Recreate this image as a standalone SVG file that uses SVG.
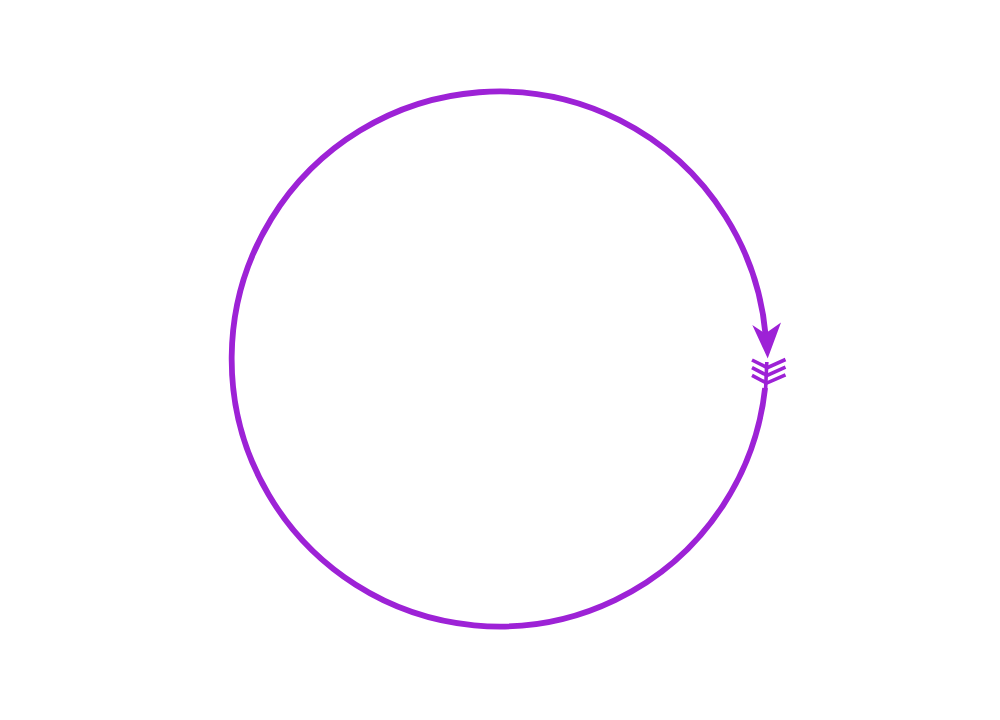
<svg xmlns="http://www.w3.org/2000/svg" width="1000" height="720" viewBox="0 0 1000 720">
  <style>
    .loop { fill: none; stroke: #9d22d6; stroke-width: 5.8; }
    .fletch { fill: none; stroke: #9d22d6; stroke-width: 3.6; stroke-linejoin: miter; }
    .head { fill: #9d22d6; stroke: none; }
  </style>
  <rect width="1000" height="720" fill="#ffffff"/>
  <g id="connectors">
    <g id="cycle-loop">
      <path class="loop" d="M 765.1 388 A 267.5 267.5 0 1 1 765.6 335"/>
      <polygon class="head" points="767.7,358.5 752.3,325 765.3,333.5 781,322.5"/>
      <path class="fletch" d="M 766.8 362 L 765.6 389"/>
      <polyline class="fletch" points="752,360 767.3,367.7 785.5,359.5"/>
      <polyline class="fletch" points="752,367.7 767,375.4 785.5,367.2"/>
      <polyline class="fletch" points="752,375.4 766.7,383.1 785.5,374.9"/>
    </g>
  </g>
</svg>
